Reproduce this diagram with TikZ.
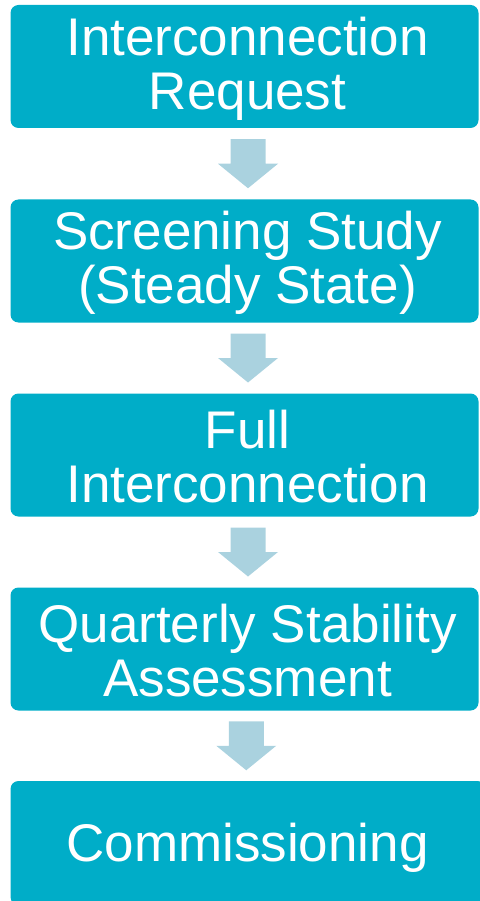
\documentclass[tikz,border=0pt]{standalone}
\usepackage{fontspec}
\setmainfont{Liberation Sans}
\usetikzlibrary{calc}
\definecolor{boxteal}{RGB}{0,173,200}
\definecolor{arrowblue}{RGB}{170,210,223}
\begin{document}
\begin{tikzpicture}[x=1pt,y=-1pt,
  stage/.style={fill=boxteal, draw=none, rounded corners=8pt, minimum width=468pt, minimum height=123pt, inner sep=0pt},
  stagetext/.style={text=white, align=center, inner sep=0pt, font=\fontsize{53}{54}\selectfont},
  downarrow/.pic={\fill[arrowblue] (-17.5,-24.5) -- (17.5,-24.5) -- (17.5,0) -- (30,0) -- (0,24.5) -- (-30,0) -- (-17.5,0) -- cycle;}
]
\useasboundingbox (0,0) rectangle (479,901);
\node[stage] (b1) at (244.5,66.5) {};
\node[stage] (b2) at (244.5,261) {};
\node[stage] (b3) at (244.5,455) {};
\node[stage] (b4) at (244.5,649) {};
\node[stage, minimum width=475pt, minimum height=124pt] (b5) at (248,843) {};
\node[stagetext] (t1) at (247.5,68.5) {Interconnection\\Request};
\node[stagetext] (t2) at (247.5,263) {Screening Study\\(Steady State)};
\node[stagetext] (t3) at (247.5,457) {Full\\Interconnection};
\node[stagetext] (t4) at (247.5,651) {Quarterly Stability\\Assessment};
\node[stagetext] (t5) at (247.5,847.5) {Commissioning};
\coordinate (a1) at ($(b1.south)!0.5!(b2.north)+(3.5,0)$);
\coordinate (a2) at ($(b2.south)!0.5!(b3.north)+(3.5,0)$);
\coordinate (a3) at ($(b3.south)!0.5!(b4.north)+(3.5,0)$);
\coordinate (a4) at ($(b4.south)!0.5!(b5.north)+(0,0)$);
\pic at (a1) {downarrow};
\pic at (a2) {downarrow};
\pic at (a3) {downarrow};
\pic at (a4) {downarrow};
\end{tikzpicture}
\end{document}
